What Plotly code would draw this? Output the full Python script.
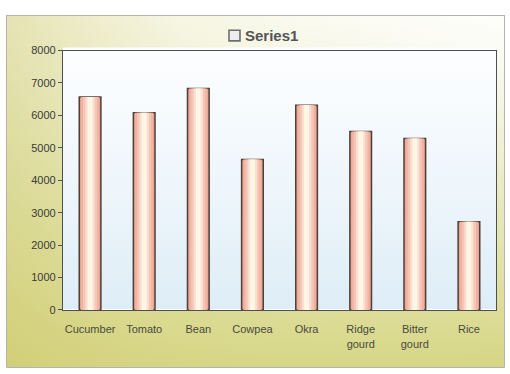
import plotly.graph_objects as go

# Chart data
categories = ["Cucumber", "Tomato", "Bean", "Cowpea", "Okra",
              "Ridge<br>gourd", "Bitter<br>gourd", "Rice"]
values = [6570, 6080, 6830, 4640, 6310, 5500, 5290, 2720]
series_name = "Series1"
y_ticks = [0, 1000, 2000, 3000, 4000, 5000, 6000, 7000, 8000]

W, H = 510, 374
# plot area in pixels (left, right, top, bottom)
PL, PR, PT, PB = 63, 496, 46, 314


def fy(py):
    """pixel row -> background-axis y value (origin at bottom)"""
    return H - py


def box(x0, x1, y0, y1):
    return [x0, x1, x1, x0, x0], [fy(y0), fy(y0), fy(y1), fy(y1), fy(y0)]


fig = go.Figure()

# ---- background layers on a full-page helper axis pair (x / y) ----
fx, fyy = box(7, 504, 10, 373)
fig.add_trace(go.Scatter(
    x=fx, y=fyy, mode="lines", line=dict(width=0), fill="toself",
    fillgradient=dict(type="vertical",
                      colorscale=[[0, "#d5d480"], [0.45, "#e6e8b8"], [0.85, "#f8f9ee"], [1, "#fefefb"]],
                      start=fy(373), stop=fy(10)),
    hoverinfo="skip", showlegend=False, xaxis="x", yaxis="y"))
fig.add_trace(go.Scatter(
    x=fx, y=fyy, mode="lines", line=dict(width=0), fill="toself",
    fillgradient=dict(type="horizontal",
                      colorscale=[[0, "rgba(205,200,105,0.5)"], [0.35, "rgba(215,212,130,0.2)"],
                                  [1, "rgba(230,235,190,0)"]],
                      start=7, stop=504),
    hoverinfo="skip", showlegend=False, xaxis="x", yaxis="y"))

px_, py_ = box(PL, PR, PT - 3, PB)
fig.add_trace(go.Scatter(
    x=px_, y=py_, mode="lines", line=dict(width=0), fill="toself",
    fillgradient=dict(type="vertical",
                      colorscale=[[0, "#dcecf6"], [0.5, "#eef6fb"], [1, "#fdfeff"]],
                      start=fy(PB), stop=fy(PT)),
    hoverinfo="skip", showlegend=False, xaxis="x", yaxis="y"))

# ---- bars: stacked layers of narrowing width give a cylinder shading ----
layers = [
    (0.40, "#e6a189"),
    (0.34, "#efb2a3"),
    (0.26, "#f5c6b8"),
    (0.17, "#fbe0d0"),
    (0.09, "#fff6e6"),
]
for i, (w, col) in enumerate(layers):
    fig.add_trace(go.Bar(
        x=categories, y=values, width=w,
        marker=dict(color=col,
                    line=dict(color="#4e403b" if i == 0 else col, width=1.5 if i == 0 else 0)),
        hoverinfo="skip", showlegend=False, xaxis="x2", yaxis="y2"))

fig.update_layout(
    width=W, height=H,
    margin=dict(l=0, r=0, t=0, b=0),
    paper_bgcolor="white",
    plot_bgcolor="rgba(0,0,0,0)",
    barmode="overlay",
    showlegend=False,
    font=dict(family="Liberation Sans, Arial, sans-serif", size=11, color="#3a3a3a"),
    xaxis=dict(domain=[0, 1], range=[0, W], visible=False, fixedrange=True),
    yaxis=dict(domain=[0, 1], range=[0, H], visible=False, fixedrange=True),
    xaxis2=dict(domain=[PL / W, PR / W], anchor="y2", type="category",
                showgrid=False, showline=True, linecolor="#4f4f4f", linewidth=1.3,
                mirror=True, ticks="outside", ticklen=9, tickcolor="rgba(0,0,0,0)",
                tickfont=dict(size=11, color="#4a4a40")),
    yaxis2=dict(domain=[1 - PB / H, 1 - PT / H], anchor="x2", range=[0, 8000],
                tickvals=y_ticks, ticktext=[str(t) for t in y_ticks],
                showgrid=False, showline=True, linecolor="#4f4f4f", linewidth=1.3,
                mirror=True, ticks="outside", ticklen=4, tickcolor="#555",
                tickfont=dict(size=11, color="#3a3a3a")),
    # series key at the top: swatch + bold name
    annotations=[
        dict(xref="x", yref="y", x=243, y=fy(30), xanchor="left", yanchor="middle",
             text="<b>%s</b>" % series_name, showarrow=False,
             font=dict(size=15, color="#555555")),
    ],
    shapes=[
        dict(type="rect", xref="x", yref="y", x0=7, x1=504, y0=fy(373), y1=fy(10),
             line=dict(color="#9a9a9a", width=1.5), fillcolor="rgba(0,0,0,0)", layer="below"),
        dict(type="rect", xref="x", yref="y", x0=229, x1=240, y0=fy(36), y1=fy(25),
             line=dict(color="#6e6e6e", width=1.6), fillcolor="#eeeeee"),
    ],
)

fig.write_html("out.html")
